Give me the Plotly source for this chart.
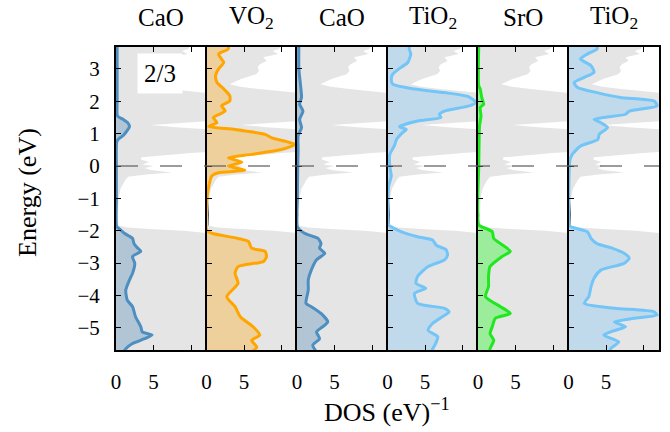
import plotly.graph_objects as go
from plotly.subplots import make_subplots

# Layer-resolved density of states (energy in eV, DOS in states/eV)
panel_titles = ["CaO", "VO<sub>2</sub>", "CaO", "TiO<sub>2</sub>", "SrO", "TiO<sub>2</sub>"]

# Total DOS drawn as grey backdrop in every panel
total_E = [3.75, 3.68, 3.62, 3.56, 3.46, 3.36, 3.25, 3.15, 3.05, 2.94, 2.84, 2.69, 2.53, 2.45,
           2.38, 2.30, 2.24, 2.0, 1.6, 1.40, 1.33, 1.27, 1.20, 1.12, 0.8, 0.45, 0.40, 0.33,
           0.27, 0.20, 0.12, 0.05, 0.0, -0.06, -0.12, -0.20, -0.26, -0.33, -0.45, -0.7,
           -1.0, -1.5, -1.85, -1.90, -1.95, -2.0, -2.07, -2.12, -3.0, -4.0, -5.8]
total_DOS = [9.8, 9.8, 9.6, 8.8, 9.5, 7.6, 8.0, 7.1, 6.8, 7.0, 6.6, 4.6, 3.1, 4.5,
             7.0, 10.5, 13, 14, 14, 13, 8, 4.6, 8, 13, 14, 13, 10, 6,
             3.4, 3.3, 4.4, 3.5, 5.0, 3.8, 4.6, 7.4, 4.0, 1.6, 1.2, 0.6,
             0.35, 0.25, 0.3, 1.5, 4.5, 9, 12, 14, 16, 16, 16]

# Projected DOS per layer
cao1_E = [3.75, 3.0, 2.0, 1.55, 1.45, 1.35, 1.22, 1.1, 0.95, 0.85, 0.75, 0.0, -1.0, -1.88,
          -1.95, -2.08, -2.24, -2.40, -2.52, -2.64, -2.80, -3.01, -3.32, -3.52, -3.84,
          -4.15, -4.35, -4.66, -4.97, -5.13, -5.23, -5.34, -5.49, -5.65, -5.75]
cao1_DOS = [0.15, 0.15, 0.15, 0.2, 0.9, 1.5, 1.8, 1.5, 1.0, 0.4, 0.1, 0.05, 0.05, 0.1,
            0.5, 1.1, 2.2, 2.4, 2.8, 3.3, 2.2, 2.5, 2.2, 1.8, 1.3,
            1.5, 2.2, 2.6, 3.3, 3.5, 4.8, 3.8, 2.2, 1.3, 1.0]

vo2_E = [3.75, 3.62, 3.46, 3.31, 3.20, 3.00, 2.79, 2.58, 2.38, 2.17, 2.01, 1.86, 1.70, 1.50,
         1.34, 1.22, 1.13, 0.98, 0.87, 0.67, 0.51, 0.36, 0.25, 0.12, 0.0, -0.13, -0.21,
         -0.31, -0.63, -1.04, -2.0, -2.08, -2.24, -2.34, -2.54, -2.64, -2.80, -2.95, -3.11,
         -3.32, -3.63, -4.04, -4.35, -4.66, -4.97, -5.23, -5.39, -5.60, -5.75]
vo2_DOS = [2.9, 2.9, 1.6, 2.0, 2.3, 1.6, 1.2, 1.4, 2.3, 3.1, 3.1, 2.0, 2.5, 0.9,
           1.4, 0.3, 3.8, 7.8, 8.7, 11.8, 10.0, 6.0, 2.9, 4.7, 2.9, 5.1, 1.6,
           0.7, 0.3, 0.05, 0.05, 0.7, 4.2, 5.6, 6.0, 7.8, 8.0, 7.6, 4.2,
           3.8, 4.2, 2.7, 3.8, 4.5, 6.2, 7.1, 6.0, 6.7, 6.0]

cao2_E = [3.75, 3.0, 2.12, 1.91, 1.70, 1.44, 1.19, 0.93, 0.5, 0.0, -1.0, -1.88, -2.08, -2.24,
          -2.40, -2.54, -2.70, -2.90, -3.22, -3.52, -3.84, -4.25, -4.35, -4.56, -4.82,
          -4.92, -5.13, -5.34, -5.54, -5.75]
cao2_DOS = [0.25, 0.25, 0.6, 0.35, 0.8, 0.35, 0.6, 0.15, 0.15, 0.1, 0.05, 0.05, 1.0, 2.8,
            3.2, 3.0, 3.7, 2.6, 1.9, 1.5, 1.5, 1.2, 1.9, 3.2, 4.1,
            3.7, 2.6, 3.0, 2.1, 2.6]

tio2a_E = [3.75, 3.62, 3.46, 3.20, 3.05, 2.84, 2.69, 2.53, 2.38, 2.27, 2.15, 1.96, 1.86,
           1.70, 1.60, 1.50, 1.39, 1.22, 1.13, 1.03, 0.82, 0.62, 0.36, 0.0, -0.31, -0.63,
           -1.82, -1.88, -2.03, -2.19, -2.29, -2.45, -2.59, -2.75, -2.90, -3.11, -3.42,
           -3.63, -3.78, -3.94, -4.25, -4.40, -4.51, -4.66, -4.87, -5.08, -5.28, -5.44, -5.75]
tio2a_DOS = [2.9, 2.9, 3.1, 2.7, 1.8, 0.7, 0.5, 0.7, 3.6, 7.6, 10.7, 11.8, 10.9,
             7.6, 6.9, 7.1, 4.0, 1.6, 2.5, 2.0, 1.2, 0.9, 0.3, 0.3, 0.5, 0.15,
             0.15, 0.5, 1.8, 4.0, 6.0, 6.5, 7.8, 8.0, 7.6, 5.4, 4.0,
             3.8, 5.1, 3.6, 4.0, 7.6, 8.2, 7.3, 6.0, 5.4, 6.7, 6.5, 5.8]

sro_E = [3.75, 2.48, 2.38, 2.12, 1.91, 1.81, 1.55, 1.24, 0.82, 0.0, -1.82, -1.93, -2.03,
         -2.24, -2.40, -2.64, -2.80, -3.11, -3.42, -3.73, -4.04, -4.35, -4.56, -4.71,
         -4.97, -5.18, -5.39, -5.65, -5.75]
sro_DOS = [0.1, 0.1, 0.3, 0.5, 0.75, 0.3, 0.4, 0.2, 0.15, 0.1, 0.1, 1.0, 1.9,
           2.1, 3.0, 4.3, 3.2, 1.6, 1.4, 1.4, 1.0, 3.0, 4.3, 2.3,
           1.9, 1.6, 2.1, 1.6, 1.6]

tio2b_E = [3.75, 3.62, 3.46, 3.31, 3.10, 2.90, 2.74, 2.58, 2.43, 2.27, 2.12, 2.01, 1.86,
           1.70, 1.60, 1.44, 1.34, 1.19, 0.98, 0.82, 0.62, 0.36, 0.20, -0.11, -1.82, -1.88,
           -2.03, -2.24, -2.40, -2.54, -2.70, -2.85, -3.01, -3.22, -3.47, -3.73, -4.04,
           -4.25, -4.40, -4.51, -4.61, -4.71, -4.82, -4.97, -5.13, -5.23, -5.44, -5.65, -5.75]
tio2b_DOS = [3.8, 3.8, 2.5, 1.6, 3.0, 3.4, 2.1, 0.75, 1.2, 3.8, 6.9, 11.4, 11.8,
             8.1, 7.6, 3.4, 4.3, 5.2, 4.1, 3.9, 1.6, 0.5, 0.2, 0.1, 0.1, 0.3,
             2.5, 3.0, 3.8, 5.8, 7.4, 8.1, 7.4, 4.3, 3.4, 3.0, 2.7,
             2.1, 6.1, 11.4, 11.8, 8.7, 6.1, 7.6, 5.6, 4.7, 6.7, 5.6, 5.6]

layers = [
    (cao1_E, cao1_DOS, "#4d8fc0", "rgba(70,130,180,0.32)"),
    (vo2_E, vo2_DOS, "#ffa500", "rgba(255,165,0,0.32)"),
    (cao2_E, cao2_DOS, "#4d8fc0", "rgba(70,130,180,0.32)"),
    (tio2a_E, tio2a_DOS, "#73c5f8", "rgba(115,197,248,0.32)"),
    (sro_E, sro_DOS, "#1fe81f", "rgba(0,255,0,0.32)"),
    (tio2b_E, tio2b_DOS, "#73c5f8", "rgba(115,197,248,0.32)"),
]

energy_ticks = [-5, -4, -3, -2, -1, 0, 1, 2, 3]
dos_ticks = [0, 5]
dos_minor_ticks = [10]
E_RANGE = [-5.69, 3.68]
DOS_RANGE = [0, 12.05]

FONT = "Liberation Serif"

fig = make_subplots(rows=1, cols=6, shared_yaxes=True, horizontal_spacing=0)

for i, (E, D, lc, fc) in enumerate(layers, start=1):
    fig.add_trace(go.Scatter(x=total_DOS, y=total_E, mode="lines", fill="tozerox",
                             fillcolor="#e5e5e5", line=dict(width=0, color="#e5e5e5"),
                             hoverinfo="skip", showlegend=False), row=1, col=i)
    fig.add_trace(go.Scatter(x=D, y=E, mode="lines", fill="tozerox", fillcolor=fc,
                             line=dict(color=lc, width=3, shape="spline", smoothing=0.6),
                             showlegend=False), row=1, col=i)
    fig.update_xaxes(range=DOS_RANGE, tickvals=dos_ticks,
                     minor=dict(tickmode="array", tickvals=dos_minor_ticks, ticks="inside",
                                ticklen=5, tickwidth=1.4, tickcolor="black", showgrid=False),
                     ticks="inside", ticklen=5, tickwidth=1.4, tickcolor="black",
                     showline=True, linecolor="black", linewidth=2, mirror="ticks",
                     showgrid=False, zeroline=False, ticklabelstandoff=12,
                     tickfont=dict(family=FONT, size=21, color="black"), row=1, col=i)
    fig.update_yaxes(range=E_RANGE, tickvals=energy_ticks,
                     ticks="inside", ticklen=5, tickwidth=1.4, tickcolor="black",
                     showline=True, linecolor="black", linewidth=2, mirror=True,
                     showgrid=False, zeroline=False,
                     showticklabels=(i == 1), ticklabelstandoff=10,
                     tickfont=dict(family=FONT, size=21, color="black"), row=1, col=i)

# Fermi level
fig.add_shape(type="line", xref="paper", yref="y", x0=0, x1=1, y0=0, y1=0,
              line=dict(color="rgba(100,100,100,0.85)", width=1.6, dash="22px,22px"))

annotations = []
for i, t in enumerate(panel_titles):
    annotations.append(dict(text=t, xref="paper", yref="paper", x=(i + 0.5) / 6, y=1.097,
                            xanchor="center", yanchor="middle", showarrow=False,
                            font=dict(family=FONT, size=25, color="black")))
annotations.append(dict(text="Energy (eV)", xref="paper", yref="paper", x=-0.163, y=0.52,
                        textangle=-90, xanchor="center", yanchor="middle", showarrow=False,
                        font=dict(family=FONT, size=26, color="black")))
annotations.append(dict(text="DOS (eV)<sup>−1</sup>", xref="paper", yref="paper", x=0.499,
                        y=-0.2, xanchor="center", yanchor="middle", showarrow=False,
                        font=dict(family=FONT, size=26, color="black")))
annotations.append(dict(text="2/3", xref="paper", yref="paper", x=0.081, y=0.912,
                        xanchor="center", yanchor="middle", showarrow=False,
                        bgcolor="white", borderpad=6,
                        font=dict(family=FONT, size=25, color="black")))

fig.update_layout(width=670, height=432, margin=dict(l=116, r=9, t=47, b=82),
                  plot_bgcolor="white", paper_bgcolor="white",
                  annotations=annotations, showlegend=False)

fig.write_html("out.html")
